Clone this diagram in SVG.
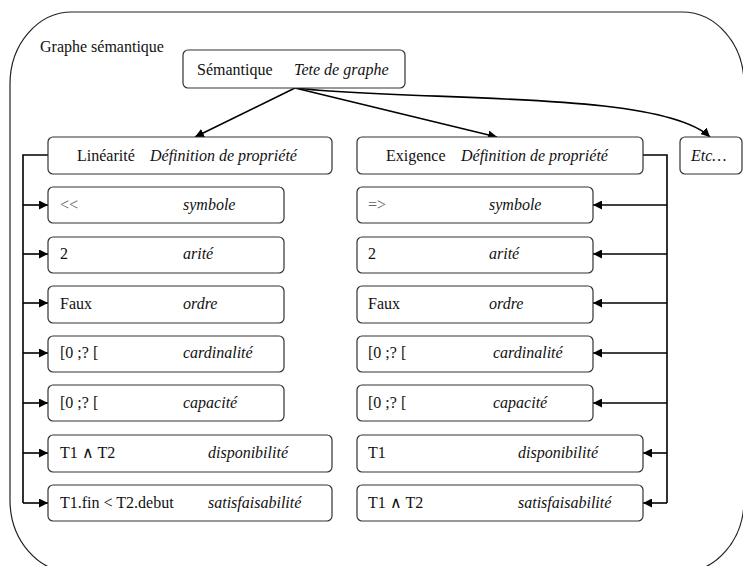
<svg xmlns="http://www.w3.org/2000/svg" width="743" height="566" viewBox="0 0 743 566" font-family="Liberation Serif, DejaVu Serif, serif">
<style>
.box{fill:#fff;stroke:#333;stroke-width:1.2}
text{font-family:"Liberation Serif",serif;font-size:16px;fill:#111}
.i{font-style:italic}
.g{fill:#666}
.c{fill:none;stroke:#000;stroke-width:1.6}
</style>
<defs>
<marker id="ah" viewBox="0 0 10 10" refX="10" refY="5" markerWidth="9" markerHeight="9" markerUnits="userSpaceOnUse" orient="auto">
<path d="M0,0 L10,5 L0,10 z" fill="#000"/>
</marker>
</defs>
<rect id="outer" x="10" y="12" width="734" height="560" rx="62" ry="72" fill="none" stroke="#222" stroke-width="1.2"/>
<text x="40" y="52" font-family="Liberation Serif">Graphe sémantique</text>

<g id="connectors">
<path class="c" d="M295,88 L195,137" marker-end="url(#ah)"/>
<path class="c" d="M295,88 L497,137" marker-end="url(#ah)"/>
<path class="c" d="M295,88 C420,102 660,90 710,137" marker-end="url(#ah)"/>
<path class="c" d="M48,155 H23 V503"/>
<path class="c" d="M23,205 H48" marker-end="url(#ah)"/>
<path class="c" d="M23,254 H48" marker-end="url(#ah)"/>
<path class="c" d="M23,303 H48" marker-end="url(#ah)"/>
<path class="c" d="M23,353 H48" marker-end="url(#ah)"/>
<path class="c" d="M23,403 H48" marker-end="url(#ah)"/>
<path class="c" d="M23,453 H48" marker-end="url(#ah)"/>
<path class="c" d="M23,503 H48" marker-end="url(#ah)"/>
<path class="c" d="M643,155 H667 V503"/>
<path class="c" d="M667,205 H593" marker-end="url(#ah)"/>
<path class="c" d="M667,254 H593" marker-end="url(#ah)"/>
<path class="c" d="M667,303 H593" marker-end="url(#ah)"/>
<path class="c" d="M667,353 H593" marker-end="url(#ah)"/>
<path class="c" d="M667,403 H593" marker-end="url(#ah)"/>
<path class="c" d="M667,453 H643" marker-end="url(#ah)"/>
<path class="c" d="M667,503 H643" marker-end="url(#ah)"/>
</g>

<g id="semantique">
<rect class="box" x="183" y="50" width="222" height="38" rx="5"/>
<text x="197" y="75">Sémantique</text>
<text class="i" x="294" y="75">Tete de graphe</text>
</g>

<g id="linearite">
<rect class="box" x="48" y="137" width="284" height="37" rx="5"/>
<text x="77" y="161">Linéarité</text>
<text class="i" x="150" y="161">Définition de propriété</text>
</g>
<g id="exigence">
<rect class="box" x="357" y="137" width="286" height="37" rx="5"/>
<text x="386" y="161">Exigence</text>
<text class="i" x="461" y="161">Définition de propriété</text>
</g>
<g id="etc">
<rect class="box" x="680" y="137" width="62" height="37" rx="5"/>
<text class="i" x="691" y="161">Etc…</text>
</g>

<g id="l-symbole">
<rect class="box" x="48" y="187" width="236" height="36" rx="5"/>
<text class="g" x="60" y="210">&lt;&lt;</text>
<text class="i" x="183" y="210">symbole</text>
</g>
<g id="l-arite">
<rect class="box" x="48" y="237" width="236" height="36" rx="5"/>
<text x="60" y="259">2</text>
<text class="i" x="183" y="259">arité</text>
</g>
<g id="l-ordre">
<rect class="box" x="48" y="286" width="236" height="37" rx="5"/>
<text x="60" y="309">Faux</text>
<text class="i" x="183" y="309">ordre</text>
</g>
<g id="l-cardinalite">
<rect class="box" x="48" y="336" width="236" height="36" rx="5"/>
<text x="60" y="358">[0 ;? [</text>
<text class="i" x="183" y="358">cardinalité</text>
</g>
<g id="l-capacite">
<rect class="box" x="48" y="385" width="236" height="36" rx="5"/>
<text x="60" y="408">[0 ;? [</text>
<text class="i" x="183" y="408">capacité</text>
</g>
<g id="l-disponibilite">
<rect class="box" x="48" y="435" width="284" height="37" rx="5"/>
<text x="60" y="458">T1 ∧ T2</text>
<text class="i" x="208" y="458">disponibilité</text>
</g>
<g id="l-satisfaisabilite">
<rect class="box" x="48" y="485" width="284" height="36" rx="5"/>
<text x="60" y="508">T1.fin &lt; T2.debut</text>
<text class="i" x="208" y="508">satisfaisabilité</text>
</g>

<g id="r-symbole">
<rect class="box" x="357" y="187" width="236" height="36" rx="5"/>
<text class="g" x="368" y="210">=&gt;</text>
<text class="i" x="489" y="210">symbole</text>
</g>
<g id="r-arite">
<rect class="box" x="357" y="237" width="236" height="36" rx="5"/>
<text x="368" y="259">2</text>
<text class="i" x="489" y="259">arité</text>
</g>
<g id="r-ordre">
<rect class="box" x="357" y="286" width="236" height="37" rx="5"/>
<text x="368" y="309">Faux</text>
<text class="i" x="489" y="309">ordre</text>
</g>
<g id="r-cardinalite">
<rect class="box" x="357" y="336" width="236" height="36" rx="5"/>
<text x="368" y="358">[0 ;? [</text>
<text class="i" x="493" y="358">cardinalité</text>
</g>
<g id="r-capacite">
<rect class="box" x="357" y="385" width="236" height="36" rx="5"/>
<text x="368" y="408">[0 ;? [</text>
<text class="i" x="493" y="408">capacité</text>
</g>
<g id="r-disponibilite">
<rect class="box" x="357" y="435" width="286" height="37" rx="5"/>
<text x="368" y="458">T1</text>
<text class="i" x="518" y="458">disponibilité</text>
</g>
<g id="r-satisfaisabilite">
<rect class="box" x="357" y="485" width="286" height="36" rx="5"/>
<text x="368" y="508">T1 ∧  T2</text>
<text class="i" x="518" y="508">satisfaisabilité</text>
</g>
</svg>
